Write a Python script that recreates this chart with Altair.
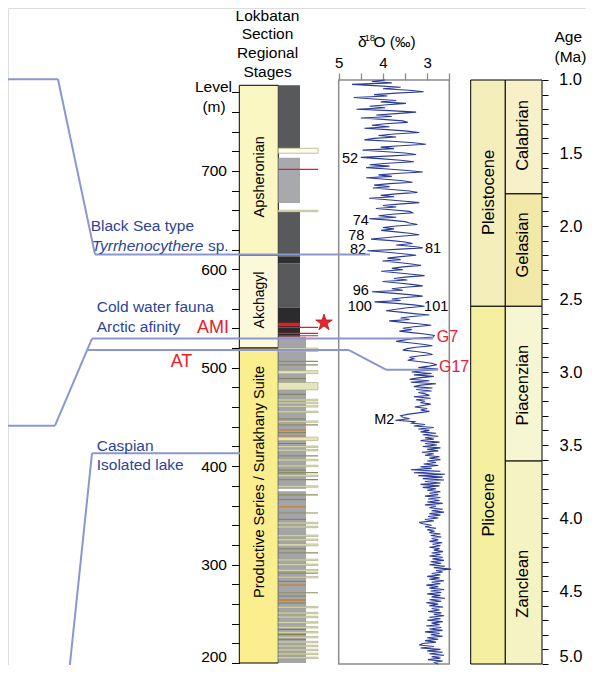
import altair as alt
import pandas as pd

FONT = "Liberation Sans"
BLUE_TXT = "#2d4595"
RED = "#e8202a"
LINK = "#8c96d0"

# ---------------- δ18O record (1.00 - 5.00 Ma, 0.01 Ma step) ----------------
AGE_START = 1.0
AGE_STEP = 0.01
D18O_1 = [
    3.95, 4.25, 3.80, 4.70, 4.10, 3.60, 4.00, 3.40, 3.08, 3.70,
    4.20, 3.90, 4.66, 4.20, 3.70, 4.05, 3.48, 3.90, 4.30, 3.95,
    4.60, 3.85, 3.25, 3.70, 4.15, 3.80, 4.50, 4.00, 3.55, 3.44,
    3.95, 4.25, 3.85, 4.42, 3.90, 3.45, 3.18, 3.75, 4.10, 3.70,
    4.20, 4.42, 3.80, 3.30, 3.03, 3.60, 4.05, 3.75, 4.46, 4.00,
    3.50, 3.25, 3.80, 4.50, 4.00, 3.60, 3.30, 3.90, 4.30, 3.85,
    4.38, 3.90, 3.45, 3.10, 3.70, 4.10, 3.80, 4.38, 3.95, 3.55,
    3.33, 3.85, 4.20, 3.85, 4.23, 3.80, 3.40, 3.22, 3.70, 4.05,
    3.75, 4.31, 3.90, 3.50, 3.18, 3.65, 4.00, 3.70, 4.16, 3.75,
    3.40, 3.33, 3.80, 4.10, 3.70, 4.31, 3.85, 3.50, 3.40, 3.22,
    3.70, 4.00, 3.75, 4.04, 3.70, 3.40, 3.18, 3.60, 3.95, 4.27,
    3.80, 3.50, 3.33, 3.70, 3.30, 3.10, 3.70, 4.35, 3.90, 3.55,
    3.25, 3.60, 3.90, 3.60, 4.01, 3.65, 3.35, 3.14, 3.55, 3.80,
    3.55, 4.04, 3.70, 3.35, 3.06, 3.50, 3.75, 3.45, 4.01, 3.65,
    3.35, 3.10, 3.50, 3.80, 3.55, 4.25, 3.80, 3.40, 3.10, 3.50,
    3.80, 3.60, 4.19, 3.70, 3.30, 3.06, 3.45, 3.70, 3.93, 3.60,
    3.30, 2.95, 3.35, 3.60, 3.40, 3.86, 3.55, 3.20, 2.91, 3.30,
    3.55, 3.35, 3.63, 3.35, 3.05, 2.84, 2.86, 3.30, 3.50, 3.70,
    3.40, 3.10, 2.88, 3.25, 3.45, 3.55, 3.25, 3.00, 2.88, 3.20,
    3.40, 3.30, 3.44, 3.15, 2.90, 2.78, 2.95, 3.20, 2.75, 3.05,
]
D18O_2 = [
    3.35, 2.90, 3.30, 2.85, 3.20, 3.40, 2.95, 3.37, 2.80, 3.15,
    3.30, 2.88, 3.25, 2.90, 3.20, 3.05, 2.95, 3.30, 2.92, 3.25,
    3.05, 3.15, 2.92, 3.10, 3.28, 3.00, 3.15, 2.95, 3.20, 3.45,
    3.60, 3.55, 3.40, 3.72, 3.28, 3.35, 3.05, 3.30, 2.85, 3.20,
    2.95, 3.15, 2.80, 3.10, 2.75, 3.05, 2.85, 3.15, 2.72, 3.05,
    2.78, 3.10, 2.70, 3.00, 2.75, 3.12, 2.85, 3.05, 2.72, 2.95,
    2.70, 3.00, 2.80, 3.08, 2.75, 3.15, 2.90, 3.37, 2.70, 3.30,
    2.60, 3.20, 2.65, 3.10, 2.62, 3.05, 2.70, 3.15, 2.72, 3.10,
    2.80, 3.00, 2.70, 2.95, 2.75, 3.05, 2.70, 2.98, 2.72, 3.00,
    2.65, 3.05, 2.80, 2.95, 2.65, 2.90, 2.62, 2.95, 2.70, 2.98,
    2.75, 3.05, 2.85, 3.18, 3.10, 2.90, 3.05, 2.80, 3.00, 2.85,
    2.95, 2.70, 2.92, 2.68, 2.90, 2.75, 2.95, 2.66, 2.88, 2.70,
    2.95, 2.72, 2.85, 2.64, 2.90, 2.70, 2.95, 2.65, 2.88, 2.62,
    2.92, 2.68, 2.95, 2.60, 2.85, 2.46, 2.80, 2.65, 2.90, 2.70,
    3.00, 2.72, 2.95, 2.62, 2.90, 2.70, 3.02, 2.75, 2.95, 2.62,
    2.92, 2.68, 3.00, 2.70, 2.90, 2.60, 2.95, 2.68, 3.02, 2.75,
    2.95, 2.64, 2.90, 2.72, 2.98, 2.68, 2.85, 2.62, 2.95, 2.70,
    3.00, 2.65, 2.90, 2.72, 3.02, 2.68, 2.95, 2.65, 3.05, 2.72,
    2.92, 2.65, 3.00, 2.75, 3.05, 2.80, 3.10, 3.18, 2.85, 3.15,
    2.70, 3.00, 2.65, 2.95, 2.62, 2.90, 2.70, 2.98, 2.65, 2.85,
    2.75,
]
D18O = D18O_1 + D18O_2
AGES = [round(AGE_START + AGE_STEP * i, 2) for i in range(len(D18O))]

CURVE_LABELS_R = ["52", "74", "78", "82", "96", "100", "M2"]
CURVE_LABELS_R_D = [4.56, 4.32, 4.42, 4.38, 4.32, 4.25, 3.74]
CURVE_LABELS_R_AGE = [1.539, 1.964, 2.066, 2.162, 2.447, 2.553, 3.329]
CURVE_LABELS_L = ["81", "101"]
CURVE_LABELS_L_D = [3.05, 3.07]
CURVE_LABELS_L_AGE = [2.155, 2.553]
MIS_RED = ["G7", "G17"]
MIS_RED_D = [2.785, 2.733]
MIS_RED_AGE = [2.758, 2.964]

# ---------------- Lokbatan section ----------------
STAGE_NAMES = ["Apsheronian", "Akchagyl", "Productive Series / Surakhany Suite"]
STAGE_TOP = [787, 614.5, 520]
STAGE_BOT = [614.5, 520, 200]
STAGE_COLORS = ["#fbf7c3", "#fcf9da", "#fbee8e"]
STAGE_LABEL_LEVEL = [694, 568.8, 384]
STAGE_LABEL_SIZE = [14.5, 14, 14.5]

COL_TOP = [787, 713.4, 658.3, 612.8, 606.1, 561]
COL_BOT = [723, 667.4, 612.8, 606.1, 561, 531.5]
COL_COLOR = ["#58595b", "#a7a9ac", "#58595b", "#2e2f31", "#58595b", "#2b2b2d"]
LOWER_TOP = 531.5
LOWER_BOT = 200

PALE_TOP = [723, 660]
PALE_BOT = [718, 658.6]
SAND_TOP = [520, 497, 485, 468, 465, 461.5, 456, 446, 429.5, 420.5, 417, 407, 401,
            391, 380, 343, 339, 330, 326, 321, 305.5, 300.5, 295, 288, 257.5, 251.5, 247.5,
            242, 237, 232, 227, 222, 218, 214, 210, 206]
SAND_BOT = [516.5, 494, 477.5, 466.5, 463.5, 460, 454.5, 444.5, 426, 419, 415.5,
            405.5, 399.5, 389.5, 378.5, 341.5, 337.5, 328.5, 324.5, 319, 304, 299, 293.5, 286.5,
            256, 250, 246, 240.5, 235.5, 230.5, 225.5, 220.5, 216.5, 212.5, 208.5, 204.5]
SILT_TOP = [507, 503.5, 442.5, 411, 394, 387, 371.5, 353, 312.5, 292, 272]
SILT_BOT = [505.8, 502.3, 441.3, 409.8, 392.8, 385.8, 370.3, 351.8, 311.3, 290.8, 270.8]
BROWN_TOP = [437.5, 431.5, 359.5, 280, 265]
BROWN_BOT = [436, 430, 358, 278.5, 263]
DARKLINE_LEVEL = [489, 473, 448, 434, 423, 396, 366, 346, 316, 283, 268, 261, 234, 229, 224]
WHITE_TOP = [377]
WHITE_BOT = [374.5]
RED_BAND = [545.7, 542.4]
RED_LINES = [701.6, 541.1, 535.0, 532.5]
STAR_LEVEL = 545.8
AMI_LEVEL = 540
AT_LEVEL = 506

# connectors: level of each end of each segment (m)
LINK_L0 = [793.1, 793.1, 615.2, 441.1, 441.1, 529.6, 518.0, 518.0, 498.0, 189.7, 413.0]
LINK_L1 = [793.1, 615.2, 615.2, 441.1, 529.6, 529.6, 518.0, 498.0, 498.0, 413.0, 413.0]

# ---------------- Geologic time scale ----------------
EPOCHS = ["Pleistocene", "Pliocene"]
EPOCH_START = [1.0, 2.55]
EPOCH_END = [2.55, 5.0]
EPOCH_COLORS = ["#f4eebb", "#f4f09f"]
EPOCH_LABEL_AGE = [1.77, 3.91]
STAGES_T = ["Calabrian", "Gelasian", "Piacenzian", "Zanclean"]
STAGE_T_START = [1.0, 1.78, 2.55, 3.61]
STAGE_T_END = [1.78, 2.55, 3.61, 5.0]
STAGE_T_COLORS = ["#f7f0c8", "#f2e9a9", "#f6f6d2", "#f6f3c3"]
STAGE_T_LABEL_AGE = [1.38, 2.13, 3.09, 4.45]
TOP_AGE_LABEL = 1.0

# ---------------- layout (chart pixels) ----------------
W, H = 578, 657
X_STAGE0, X_STAGE1 = 231.3, 270.3
X_COL1, X_COL2, X_EXT = 292, 298, 310
X_EP0, X_EP1, X_AG1 = 462.7, 497.3, 534
LINK_X0 = [0, 50, 87, 0, 47, 84, 79, 341, 378, 61, 84]
LINK_X1 = [50, 87, 362, 47, 84, 425, 341, 378, 430, 84, 232]

LEVEL_SCALE = alt.Scale(domain=[200, 787], range=[655, 77.3], nice=False, zero=False)
AGE_SCALE = alt.Scale(domain=[1, 5], range=[72, 656], nice=False, zero=False)
D18_SCALE = alt.Scale(domain=[5, 2.5], range=[330.7, 441.3], nice=False, zero=False)

LEVEL_AXIS = alt.Axis(orient="left", offset=-231.5, values=list(range(200, 781, 20)),
                      labelExpr="datum.value % 100 === 0 ? datum.label : ''",
                      tickSize=8, labelPadding=5, domain=False, grid=False, title=None,
                      labelFont=FONT, labelFontSize=15.5, labelColor="black",
                      tickColor="black", labelOverlap=False, labelFlush=True,
                      labelFlushOffset=1)
AGE_AXIS = alt.Axis(orient="right", offset=X_AG1 - W,
                    values=[round(1 + 0.1 * i, 1) for i in range(41)],
                    format=".1f",
                    labelExpr="(round(datum.value * 10) % 5 === 0 && datum.value > 1.01) ? datum.label : ''",
                    tickSize=6, labelPadding=11, domain=False, grid=False, title=None,
                    labelFont=FONT, labelFontSize=16.5, labelColor="black",
                    tickColor="black", labelOverlap=False, labelFlush=True,
                    labelFlushOffset=0)
D18_AXIS = alt.Axis(orient="top", offset=-72, values=[5, 4.5, 4, 3.5, 3, 2.5],
                    labelExpr="datum.value % 1 === 0 ? format(datum.value, 'd') : ''",
                    tickSize=7, labelPadding=3, domain=False, grid=False, title=None,
                    labelFont=FONT, labelFontSize=15, labelColor="black",
                    tickColor="#8c8c8c", tickWidth=1.3, labelOverlap=False, labelFlush=False)


def ylev(field, axis=None):
    return alt.Y(f"{field}:Q", scale=LEVEL_SCALE, axis=axis)


def band_layer(tops, bots, x0, x1, fill, stroke=None, sw=0):
    df = pd.DataFrame({"top": tops, "bot": bots})
    kw = dict(fill=fill)
    if stroke:
        kw.update(stroke=stroke, strokeWidth=sw)
    return alt.Chart(df).mark_rect(**kw).encode(
        x=alt.value(x0), x2=alt.value(x1), y=ylev("top"), y2="bot:Q")


def text_layer(texts, xs, ys, size, color="black", align="left", baseline="middle",
               style="normal", angle=0):
    df = pd.DataFrame({"t": texts, "x": xs, "y": ys})
    return alt.Chart(df).mark_text(font=FONT, fontSize=size, color=color, align=align,
                                   baseline=baseline, fontStyle=style, angle=angle).encode(
        x=alt.X("x:Q", scale=None, axis=None),
        y=alt.Y("y:Q", scale=None, axis=None),
        text="t:N")


layers = []

# stage column with level axis
stage_df = pd.DataFrame({"name": STAGE_NAMES, "top": STAGE_TOP, "bot": STAGE_BOT,
                         "color": STAGE_COLORS, "lab": STAGE_LABEL_LEVEL,
                         "size": STAGE_LABEL_SIZE})
layers.append(alt.Chart(stage_df).mark_rect(stroke="black", strokeWidth=1).encode(
    x=alt.value(X_STAGE0), x2=alt.value(X_STAGE1),
    y=ylev("top", LEVEL_AXIS), y2="bot:Q",
    fill=alt.Fill("color:N", scale=None)))
layers.append(alt.Chart(stage_df).mark_text(font=FONT, angle=270, color="black",
                                            baseline="middle", align="center").encode(
    x=alt.value(251.5), y=ylev("lab"), text="name:N",
    size=alt.Size("size:Q", scale=None, legend=None)))

# lithology column
col_df = pd.DataFrame({"top": COL_TOP, "bot": COL_BOT, "color": COL_COLOR})
layers.append(alt.Chart(col_df).mark_rect().encode(
    x=alt.value(X_STAGE1), x2=alt.value(X_COL1), y=ylev("top"), y2="bot:Q",
    fill=alt.Fill("color:N", scale=None)))
layers.append(band_layer([LOWER_TOP], [LOWER_BOT], X_STAGE1, X_COL2, "#a3a5a8"))
layers.append(band_layer(WHITE_TOP, WHITE_BOT, X_STAGE1, X_COL2, "white"))
layers.append(band_layer(BROWN_TOP, BROWN_BOT, X_STAGE1, X_COL2, "#c28445"))
dl_df = pd.DataFrame({"lv": DARKLINE_LEVEL})
layers.append(alt.Chart(dl_df).mark_rule(color="#7f7f5c", strokeWidth=1).encode(
    x=alt.value(X_STAGE1), x2=alt.value(X_COL2), y=ylev("lv")))
layers.append(band_layer(PALE_TOP, PALE_BOT, X_STAGE1, X_EXT, "#fdfdf0", "#b9b98c", 0.9))
layers.append(band_layer(SAND_TOP, SAND_BOT, X_STAGE1, X_EXT, "#e4e4bd", "#a6a678", 0.6))
layers.append(band_layer(SILT_TOP, SILT_BOT, X_STAGE1, X_EXT, "#8d8d60"))
layers.append(band_layer([RED_BAND[0]], [RED_BAND[1]], X_STAGE1, X_COL1, "#e31e24"))
red_df = pd.DataFrame({"lv": RED_LINES})
layers.append(alt.Chart(red_df).mark_rule(color="#e31e24", strokeWidth=1.2).encode(
    x=alt.value(X_STAGE1), x2=alt.value(X_EXT), y=ylev("lv")))

STAR = ("M0,-1L0.2245,-0.309L0.951,-0.309L0.363,0.118L0.588,0.809L0,0.382"
        "L-0.588,0.809L-0.363,0.118L-0.951,-0.309L-0.2245,-0.309Z")
layers.append(alt.Chart(pd.DataFrame({"lv": [STAR_LEVEL]})).mark_point(
    shape=STAR, filled=True, size=300, fill="#e8262a", stroke="#b3181e",
    strokeWidth=0.8, opacity=1).encode(x=alt.value(316), y=ylev("lv")))

ann_df = pd.DataFrame({"t": ["AMI", "AT"], "lv": [AMI_LEVEL, AT_LEVEL], "xx": [205, 173.5]})
layers.append(alt.Chart(ann_df).mark_text(font=FONT, fontSize=18, color=RED,
                                          align="center", baseline="middle").encode(
    x=alt.X("xx:Q", scale=None, axis=None), y=ylev("lv"), text="t:N"))

# δ18O panel
box_df = pd.DataFrame({"x0": [5], "x1": [2.5], "a0": [1], "a1": [5]})
layers.append(alt.Chart(box_df).mark_rect(fill="white", fillOpacity=0, stroke="#8c8c8c",
                                          strokeWidth=1.5).encode(
    x=alt.X("x0:Q", scale=D18_SCALE, axis=None), x2="x1:Q",
    y=alt.Y("a0:Q", scale=AGE_SCALE, axis=None), y2="a1:Q"))
curve_df = pd.DataFrame({"age": AGES, "d18o": D18O})
layers.append(alt.Chart(curve_df).mark_line(color="#2b3c98", strokeWidth=1.1).encode(
    x=alt.X("d18o:Q", scale=D18_SCALE, axis=D18_AXIS),
    y=alt.Y("age:Q", scale=AGE_SCALE, axis=None),
    order=alt.Order("age:Q")))


def curve_text(texts, ds, ages, align, color, size):
    df = pd.DataFrame({"t": texts, "d": ds, "a": ages})
    return alt.Chart(df).mark_text(font=FONT, fontSize=size, color=color, align=align,
                                   baseline="middle").encode(
        x=alt.X("d:Q", scale=D18_SCALE, axis=None),
        y=alt.Y("a:Q", scale=AGE_SCALE, axis=None), text="t:N")


layers.append(curve_text(CURVE_LABELS_R, CURVE_LABELS_R_D, CURVE_LABELS_R_AGE, "right", "black", 14.5))
layers.append(curve_text(CURVE_LABELS_L, CURVE_LABELS_L_D, CURVE_LABELS_L_AGE, "left", "black", 14.5))
layers.append(curve_text(MIS_RED, MIS_RED_D, MIS_RED_AGE, "left", RED, 16))

# time scale
ep_df = pd.DataFrame({"n": EPOCHS, "s": EPOCH_START, "e": EPOCH_END, "c": EPOCH_COLORS,
                      "la": EPOCH_LABEL_AGE})
layers.append(alt.Chart(ep_df).mark_rect(stroke="black", strokeWidth=1).encode(
    x=alt.value(X_EP0), x2=alt.value(X_EP1),
    y=alt.Y("s:Q", scale=AGE_SCALE, axis=AGE_AXIS), y2="e:Q",
    fill=alt.Fill("c:N", scale=None)))
st_df = pd.DataFrame({"n": STAGES_T, "s": STAGE_T_START, "e": STAGE_T_END,
                      "c": STAGE_T_COLORS, "la": STAGE_T_LABEL_AGE})
layers.append(alt.Chart(st_df).mark_rect(stroke="black", strokeWidth=1).encode(
    x=alt.value(X_EP1), x2=alt.value(X_AG1),
    y=alt.Y("s:Q", scale=AGE_SCALE, axis=None), y2="e:Q",
    fill=alt.Fill("c:N", scale=None)))
layers.append(alt.Chart(ep_df).mark_text(font=FONT, fontSize=16.5, angle=270, color="black",
                                         align="center", baseline="middle").encode(
    x=alt.value(481), y=alt.Y("la:Q", scale=AGE_SCALE, axis=None), text="n:N"))
layers.append(alt.Chart(st_df).mark_text(font=FONT, fontSize=16.5, angle=270, color="black",
                                         align="center", baseline="middle").encode(
    x=alt.value(515), y=alt.Y("la:Q", scale=AGE_SCALE, axis=None), text="n:N"))
top_df = pd.DataFrame({"a": [TOP_AGE_LABEL], "t": [f"{TOP_AGE_LABEL:.1f}"]})
layers.append(alt.Chart(top_df).mark_text(font=FONT, fontSize=16.5, color="black",
                                          align="left", baseline="middle").encode(
    x=alt.value(X_AG1 + 17), y=alt.Y("a:Q", scale=AGE_SCALE, axis=None), text="t:N"))

# connectors
link_df = pd.DataFrame({"x0": LINK_X0, "x1": LINK_X1, "l0": LINK_L0, "l1": LINK_L1})
layers.append(alt.Chart(link_df).mark_rule(color=LINK, strokeWidth=2).encode(
    x=alt.X("x0:Q", scale=None, axis=None), x2="x1:Q",
    y=ylev("l0"), y2="l1:Q"))

# texts
layers.append(text_layer(["Lokbatan", "Section", "Regional", "Stages"],
                         [259.5] * 4, [12.7, 31.3, 50.3, 68.7], 15.5, align="center",
                         baseline="alphabetic"))
layers.append(text_layer(["Level", "(m)"], [205.5, 206], [79.3, 99], 15.5, align="center"))
layers.append(text_layer(["Age", "(Ma)"], [546.5, 546.5], [28.5, 48.5], 15.5))
layers.append(text_layer(["δ", "O (‰)"], [350, 365.5], [38.7, 38.7], 15.5,
                         baseline="alphabetic"))
layers.append(text_layer(["18"], [356.5], [32.7], 9.5, baseline="alphabetic"))
layers.append(text_layer(["Black Sea type", "Cold water fauna", "Arctic afinity",
                          "Caspian", "Isolated lake"],
                         [82.7, 88.7, 88.7, 88.7, 88.7], [218, 299.3, 318.7, 438, 457],
                         15.5, color=BLUE_TXT))
layers.append(text_layer(["Tyrrhenocythere"], [83.7], [238], 15.5, color=BLUE_TXT,
                         style="italic"))
layers.append(text_layer(["sp."], [200], [238], 15.5, color=BLUE_TXT))

chart = alt.layer(*layers).resolve_scale(x="independent", y="independent").properties(
    width=W, height=H, padding=0, autosize=alt.AutoSizeParams(type="none")
).configure_view(stroke=None).configure(font=FONT)

chart.save("out.html", embed_options={"renderer": "svg", "actions": False})
